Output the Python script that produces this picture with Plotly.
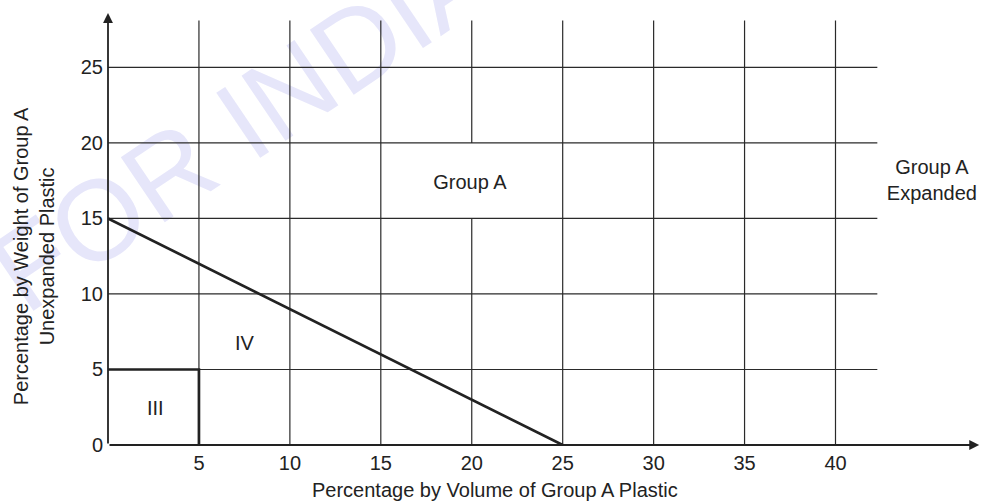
import plotly.graph_objects as go

# ---- data ----
x_ticks = [5, 10, 15, 20, 25, 30, 35, 40]
y_ticks = [0, 5, 10, 15, 20, 25]
grid_top = 28.1          # vertical gridlines end here
grid_right = 42.3        # horizontal gridlines end here
x_axis_end = 47.9
y_axis_end = 28.6
label_gap_x = 20         # vertical gridline interrupted by "Group A" label
label_gap_y = [15, 20]

boundary_x = [0, 25]     # limit line between Group A and region IV
boundary_y = [15, 0]
region3_x = [0, 5, 5]    # region III box
region3_y = [5, 5, 0]

region_labels = ["Group A", "Group A<br>Expanded", "IV", "III"]
region_label_x = [19.9, 45.3, 7.5, 2.6]
region_label_y = [17.3, 17.4, 6.6, 2.3]

x_title = "Percentage by Volume of Group A Plastic"
y_title = "Percentage by Weight of Group A<br>Unexpanded Plastic"
watermark = "FOR INDIA"

FONT = "Liberation Sans, Arial, sans-serif"
INK = "#222222"

fig = go.Figure()

# vertical gridlines
vx, vy = [], []
for xv in x_ticks:
    if xv == label_gap_x:
        vx += [xv, xv, None, xv, xv, None]
        vy += [0, label_gap_y[0], None, label_gap_y[1], grid_top, None]
    else:
        vx += [xv, xv, None]
        vy += [0, grid_top, None]
fig.add_trace(go.Scatter(x=vx, y=vy, mode="lines", line=dict(color="#2a2a2a", width=1.2),
                         hoverinfo="skip", showlegend=False, cliponaxis=False))

# horizontal gridlines
hx, hy = [], []
for yv in y_ticks[1:]:
    hx += [0, grid_right, None]
    hy += [yv, yv, None]
fig.add_trace(go.Scatter(x=hx, y=hy, mode="lines", line=dict(color="#2a2a2a", width=1.2),
                         hoverinfo="skip", showlegend=False, cliponaxis=False))

# region III box
fig.add_trace(go.Scatter(x=region3_x, y=region3_y, mode="lines",
                         line=dict(color=INK, width=2.7),
                         hoverinfo="skip", showlegend=False, cliponaxis=False))

# boundary line
fig.add_trace(go.Scatter(x=boundary_x, y=boundary_y, mode="lines",
                         line=dict(color=INK, width=2.7),
                         hoverinfo="skip", showlegend=False, cliponaxis=False))

# region labels
fig.add_trace(go.Scatter(x=region_label_x, y=region_label_y, mode="text",
                         text=region_labels, textposition="middle center",
                         textfont=dict(family=FONT, size=20, color=INK),
                         hoverinfo="skip", showlegend=False, cliponaxis=False))

annotations = [
    # axes with arrowheads
    dict(x=x_axis_end, y=0, ax=0, ay=0, xref="x", yref="y", axref="x", ayref="y",
         text="", showarrow=True, arrowhead=2, arrowsize=1.1, arrowwidth=1.8,
         arrowcolor=INK, standoff=0),
    dict(x=0, y=y_axis_end, ax=0, ay=0, xref="x", yref="y", axref="x", ayref="y",
         text="", showarrow=True, arrowhead=2, arrowsize=1.1, arrowwidth=1.8,
         arrowcolor=INK, standoff=0),
    # axis titles
    dict(x=0.443, y=-0.103, xref="paper", yref="paper", text=x_title, showarrow=False,
         font=dict(family=FONT, size=20, color=INK), xanchor="center", yanchor="middle"),
    dict(x=-0.0848, y=0.434, xref="paper", yref="paper", text=y_title, showarrow=False,
         textangle=-90, font=dict(family=FONT, size=20, color=INK),
         xanchor="center", yanchor="middle"),
]

shapes = [
    dict(type="rect", xref="paper", yref="paper", x0=0.142, x1=0.152, y0=0.758, y1=0.768,
         line=dict(width=0), fillcolor="rgba(0,0,0,0)", layer="below",
         label=dict(text=watermark, textangle=-34, textposition="middle center",
                    font=dict(family=FONT, size=114, color="#e6e6fa"))),
]

fig.update_layout(
    width=981, height=501,
    margin=dict(l=108, r=0, t=10, b=56),
    paper_bgcolor="white", plot_bgcolor="white",
    showlegend=False,
    annotations=annotations,
    shapes=shapes,
    xaxis=dict(range=[0, 48], tickvals=x_ticks, ticktext=[str(v) for v in x_ticks],
               showgrid=False, zeroline=False, showline=False, ticks="",
               ticklabelstandoff=4,
               tickfont=dict(family=FONT, size=20, color=INK), fixedrange=True),
    yaxis=dict(range=[0, 28.8], tickvals=y_ticks, ticktext=[str(v) for v in y_ticks],
               showgrid=False, zeroline=False, showline=False, ticks="",
               ticklabelstandoff=4,
               tickfont=dict(family=FONT, size=20, color=INK), fixedrange=True),
)

fig.write_html("out.html", config={"displayModeBar": False},
               post_script="document.body.style.margin='0';document.body.style.overflow='hidden';")
